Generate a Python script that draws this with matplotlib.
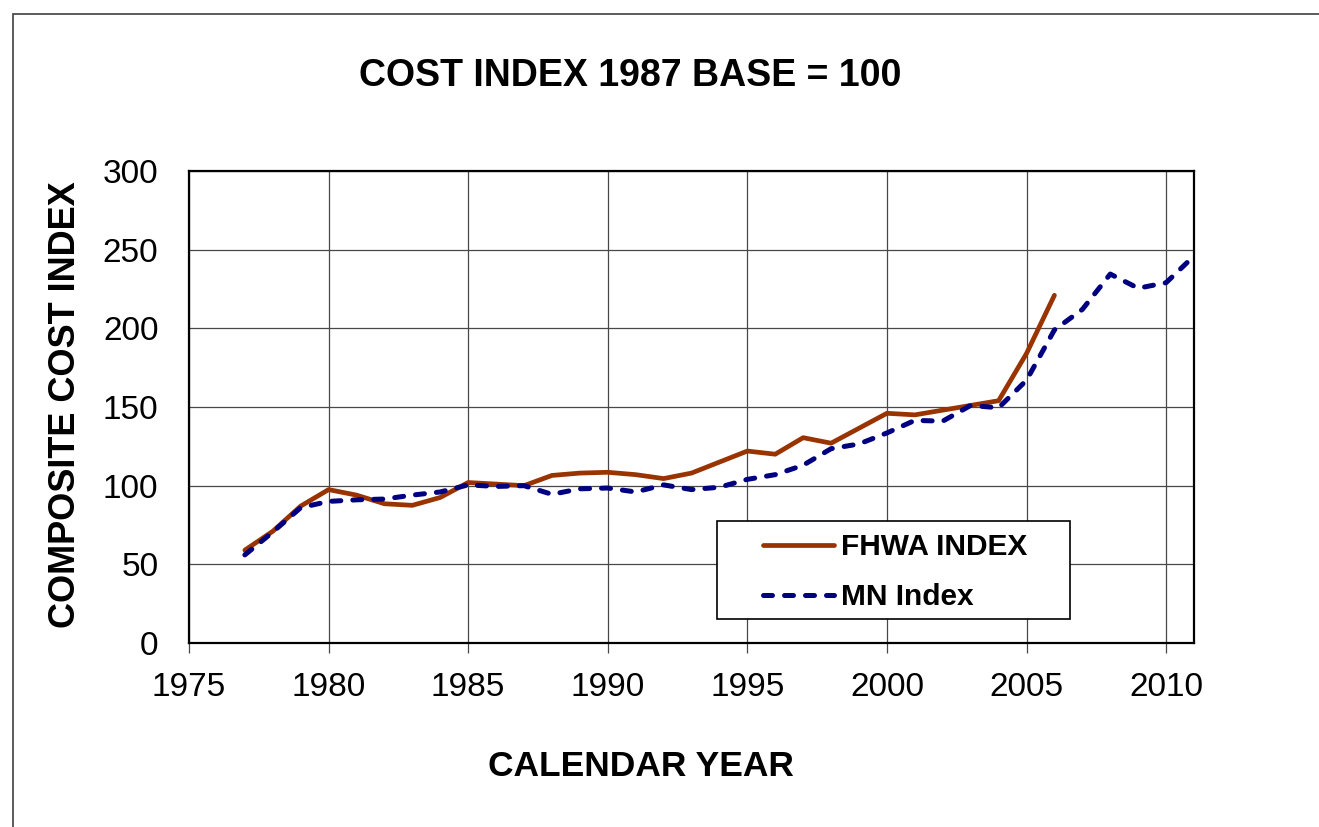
import matplotlib
matplotlib.use("Agg")
import matplotlib.pyplot as plt
from matplotlib.patches import Rectangle

plt.rcParams['font.family'] = ['Liberation Sans', 'DejaVu Sans']

# data
fhwa_years = list(range(1977, 2007))
fhwa_index = [59, 71, 87, 97.5, 94, 88.5, 87.5, 92.5, 102, 101, 100, 106.5,
              108, 108.5, 107, 104.5, 108, 115, 122, 120, 130.5, 127, 136.5,
              146, 145, 148, 151, 154, 184, 221]

mn_years = list(range(1977, 2012))
mn_index = [56, 70.5, 86, 90, 91, 91.5, 94, 96, 100.5, 99.5, 100, 94.5,
            98, 98.5, 96, 100.5, 97.5, 99, 104, 107, 113, 123.5, 126.5,
            133.5, 141.5, 141, 151, 149.5, 167, 199, 212, 234.5, 225.5,
            229, 246]

x_ticks = [1975, 1980, 1985, 1990, 1995, 2000, 2005, 2010]
y_ticks = [0, 50, 100, 150, 200, 250, 300]

W, H = 1319, 827
fig = plt.figure(figsize=(W / 100, H / 100), dpi=100)
ax = fig.add_axes([189 / W, 1 - 643 / H, 1005 / W, 472 / H])

ax.plot(fhwa_years, fhwa_index, color='#993300', lw=3.4,
        solid_capstyle='round', label='FHWA INDEX', zorder=3)
ax.plot(mn_years, mn_index, color='#000080', lw=3.6,
        dashes=(1.8, 2.4), dash_capstyle='round', label='MN Index', zorder=4)

ax.set_xlim(1975, 2011)
ax.set_ylim(0, 300)
ax.set_xticks(x_ticks)
ax.set_yticks(y_ticks)
ax.grid(True, color='#484848', lw=0.9)
ax.set_axisbelow(True)
ax.tick_params(axis='x', direction='out', length=7, width=0.9, color='#484848',
               labelsize=24, pad=14)
ax.tick_params(axis='y', length=0, labelsize=24, pad=22)
for s in ax.spines.values():
    s.set_linewidth(1.6)
    s.set_color('black')

fig.text(641 / W, 1 - 766 / H, 'CALENDAR YEAR', fontsize=25.5,
         fontweight='bold', ha='center', va='center')
fig.text(66 / W, 1 - 405 / H, 'COMPOSITE COST INDEX', fontsize=26,
         fontweight='bold', ha='center', va='center', rotation=90)
fig.text(630 / W, 1 - 76 / H, 'COST INDEX 1987 BASE = 100', fontsize=27,
         fontweight='bold', ha='center', va='center')

# legend box drawn by hand, entries from a frameless legend
ax.add_patch(Rectangle(((717 - 189) / 1005, (643 - 619) / 472), 353 / 1005,
                       98 / 472, transform=ax.transAxes, facecolor='white',
                       edgecolor='black', lw=1.2, zorder=5))
leg = ax.legend(loc='upper left',
                bbox_to_anchor=((763 - 189) / 1005, (643 - 533) / 472),
                prop={'weight': 'bold', 'size': 21.5}, frameon=False,
                handlelength=2.37, handletextpad=0.23, labelspacing=0.75,
                borderpad=0, borderaxespad=0)
leg.set_zorder(6)

# outer chart border
fig.add_artist(Rectangle((13 / W, -0.1), 1.2, 1 - 14 / H + 0.1,
                         transform=fig.transFigure, fill=False,
                         edgecolor='#404040', lw=1.2, clip_on=False))

fig.savefig('out.png', dpi=100)
